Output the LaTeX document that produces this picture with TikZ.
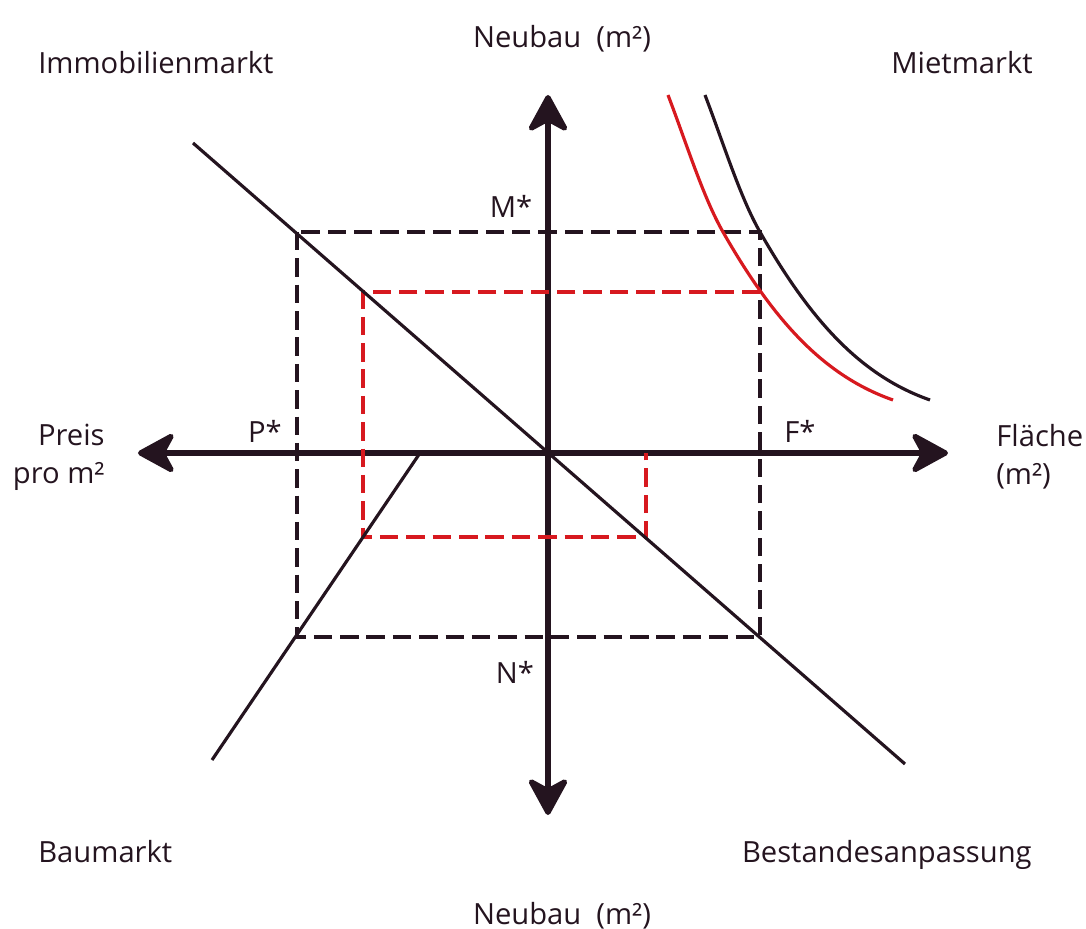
\documentclass[tikz,border=0pt]{standalone}
\usepackage{fontspec}
\setmainfont{Open Sans}
\usepackage{tikz}
\usetikzlibrary{arrows.meta}
\definecolor{encre}{HTML}{24141F}
\definecolor{rouge}{HTML}{D7191F}
\tikzset{
  axe/.style={line width=3pt, color=encre, {Stealth[length=24pt,width=26pt,inset=7pt,round]}-{Stealth[length=24pt,width=26pt,inset=7pt,round]}},
  courbe/.style={line width=1.8pt},
  tiret/.style={line width=2pt, dash pattern=on 10.5pt off 4.5pt},
  etiquette/.style={inner sep=0pt, text=encre, font=\fontsize{16.6}{21.5}\selectfont},
}
\begin{document}
\begin{tikzpicture}[x=0.2cm, y=0.2cm]
    \useasboundingbox (-54.8,45.3) rectangle (53.8,-47.6);

    \coordinate (ouest) at (-41,0); % ----- Axes
    \coordinate (est) at (40,0);
    \coordinate (sud) at (0,-36.2);
    \coordinate (nord) at (0,35.8);
    \draw[axe] (ouest) -- (est);
    \draw[axe] (sud) -- (nord);

    \coordinate (PN) at (-25.1,22.1); % ----- Equilibre
    \coordinate (FS) at (21.2,-18.4);
    \draw[tiret, encre] (PN) rectangle (FS);

    \draw[tiret, rouge] (21.2,16.1) -- (-18.5,16.1) -- (-18.5,-8.4) -- (9.8,-8.4) -- (9.8,0); % ----- Choc

    \draw[courbe, encre] (-35.5,31.0) -- (35.7,-31.1); % ----- Droites
    \draw[courbe, encre] (-12.8,0) -- (-33.6,-30.7);

    \draw[courbe, encre] (15.7,35.8) .. controls (17.5,31.1) and (19.2,25.6) .. (21.2,22.1)
        .. controls (26.2,13.35) and (31.2,7.75) .. (38.2,5.3); % ----- Demande
    \draw[courbe, rouge] (12.0,35.8) .. controls (13.8,31.1) and (15.5,25.6) .. (17.5,22.1)
        .. controls (22.5,13.35) and (27.5,7.75) .. (34.5,5.3);

    \foreach \nom/\x/\y/\texte in {mstar/-3.7/23.5/M*, pstar/-28.3/1.0/P*, fstar/25.2/1.0/F*, nstar/-3.3/-23.1/N*}
        \node[etiquette, anchor=base] (\nom) at (\x,\y) {\texte};

    \node[etiquette, anchor=base] (neubauhaut) at (1.4,40.55) {Neubau\ \ (m²)};
    \node[etiquette, anchor=base] (neubaubas) at (1.4,-47.1) {Neubau\ \ (m²)};
    \node[etiquette, anchor=base west] (immo) at (-51.0,37.95) {Immobilienmarkt};
    \node[etiquette, anchor=base east] (miete) at (48.5,37.95) {Mietmarkt};
    \node[etiquette, anchor=base west] (bau) at (-51.0,-40.9) {Baumarkt};
    \node[etiquette, anchor=base east] (bestand) at (48.4,-40.9) {Bestandesanpassung};
    \node[etiquette, anchor=east, align=right] (preis) at (-44.3,-0.4) {Preis\\pro m²};
    \node[etiquette, anchor=west, align=left] (flaeche) at (44.8,-0.4) {Fläche\\(m²)};
\end{tikzpicture}
\end{document}
